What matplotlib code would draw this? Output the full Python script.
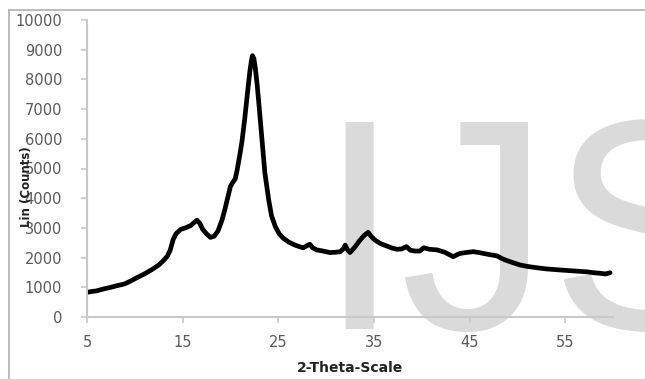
import matplotlib
matplotlib.use("Agg")
import matplotlib.pyplot as plt
from matplotlib.lines import Line2D

two_theta = [5.0, 5.5, 6.0, 6.8, 7.5, 8.2, 8.9, 9.5, 10.2, 11.0, 11.8, 12.5, 13.0, 13.4,
             13.7, 14.0, 14.3, 14.8, 15.3, 15.85, 16.2, 16.5, 16.8, 17.1, 17.5, 17.9, 18.3,
             18.7, 19.1, 19.4, 19.7, 20.0, 20.3, 20.5, 20.7, 21.0, 21.2, 21.5, 21.7, 21.9,
             22.05, 22.2, 22.3, 22.45, 22.6, 22.8, 23.0, 23.3, 23.6, 24.0, 24.3, 24.7, 25.1,
             25.5, 26.1, 26.75, 27.3, 27.6, 28.0, 28.3, 28.6, 29.0, 29.7, 30.4, 31.0, 31.5,
             31.8, 32.0, 32.2, 32.5, 33.0, 33.55, 34.0, 34.4, 34.7, 35.1, 35.7, 36.35, 36.9,
             37.4, 37.9, 38.4, 38.8, 39.3, 39.8, 40.2, 40.8, 41.6, 42.4, 43.0, 43.3, 43.7,
             44.0, 44.6, 45.4, 46.0, 46.45, 47.1, 47.85, 48.5, 49.25, 50.3, 51.1, 52.0, 53.0,
             53.8, 54.6, 55.5, 56.4, 57.3, 58.0, 58.7, 59.2, 59.7]
counts = [830, 860, 880, 950, 1000, 1060, 1110, 1200, 1320, 1450, 1600, 1750, 1900, 2050,
          2250, 2600, 2800, 2950, 3000, 3080, 3180, 3260, 3150, 2950, 2800, 2680, 2720,
          2900, 3250, 3600, 4000, 4400, 4560, 4650, 4950, 5500, 5900, 6700, 7300, 7900,
          8320, 8650, 8800, 8700, 8380, 7800, 7080, 5960, 4850, 3940, 3400, 3040, 2800,
          2660, 2520, 2420, 2360, 2330, 2400, 2450, 2330, 2260, 2220, 2170, 2180, 2200,
          2300, 2420, 2280, 2170, 2350, 2590, 2750, 2850, 2720, 2590, 2470, 2390, 2320,
          2280, 2290, 2370, 2250, 2220, 2220, 2330, 2280, 2260, 2180, 2080, 2030, 2100,
          2140, 2170, 2200, 2170, 2140, 2100, 2060, 1950, 1860, 1750, 1700, 1660, 1620,
          1600, 1580, 1560, 1540, 1520, 1490, 1470, 1450, 1490]

x_ticks = [5, 15, 25, 35, 45, 55]
y_ticks = [0, 1000, 2000, 3000, 4000, 5000, 6000, 7000, 8000, 9000, 10000]
x_label = "2-Theta-Scale"
y_label = "Lin (Counts)"
watermark = "IJS"

W, H = 645, 379
fig = plt.figure(figsize=(W / 100, H / 100), dpi=100)
ax = fig.add_axes([87 / W, (H - 317) / H, (613 - 87) / W, (317 - 20) / H])
ax.set_facecolor("none")

# watermark behind the axes
fig.text(317 / W, 1 - 329 / H, watermark, fontsize=216, family="Liberation Sans",
         color="#dadada", ha="left", va="baseline", zorder=-1)

# outer chart frame (partially visible)
fig.add_artist(Line2D([9 / W, 1.0], [1 - 9.5 / H, 1 - 9.5 / H], transform=fig.transFigure,
                      color="#b0b0b0", lw=1.2))
fig.add_artist(Line2D([9 / W, 9 / W], [0, 1 - 9.5 / H], transform=fig.transFigure,
                      color="#b0b0b0", lw=1.2))

ax.plot(two_theta, counts, color="black", lw=3.4, solid_joinstyle="round",
        solid_capstyle="round")

ax.set_xlim(5, 60)
ax.set_ylim(0, 10000)
ax.set_xticks(x_ticks)
ax.set_yticks(y_ticks)
for s in ["top", "right"]:
    ax.spines[s].set_visible(False)
for s in ["left", "bottom"]:
    ax.spines[s].set_color("#c8c8c8")
    ax.spines[s].set_linewidth(1.5)
ax.tick_params(axis="both", colors="#c8c8c8", labelcolor="#5a5a5a", length=4, width=1.2,
               labelsize=10.5)
ax.tick_params(axis="y", pad=14)
ax.tick_params(axis="x", pad=9)

ax.set_xlabel(x_label, fontsize=10, fontweight="bold", color="#222222", labelpad=8)
fig.text(27 / W, 1 - 187 / H, y_label, rotation=90, fontsize=8.5, fontweight="bold",
         color="#222222", ha="center", va="center")

fig.savefig("out.png", dpi=100)
